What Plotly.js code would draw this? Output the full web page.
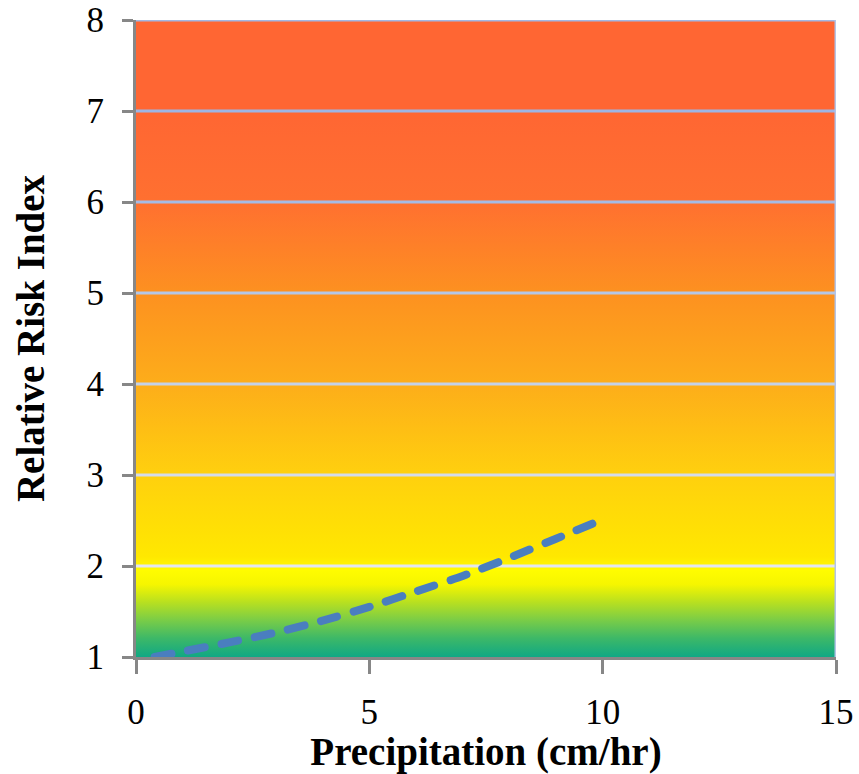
<!DOCTYPE html>
<html>
<head>
<meta charset="utf-8">
<script src="https://cdn.plot.ly/plotly-3.0.1.min.js"></script>
<style>
html, body { margin: 0; padding: 0; background: #ffffff; }
#chart { width: 859px; height: 774px; }
.scatterlayer path.js-line { stroke-linecap: round; }
</style>
</head>
<body>
<div id="chart"></div>
<script>
// Data
const precipitation = [0.4, 1, 2, 3, 4, 5, 6, 7, 8, 9, 9.85];
const riskIndex = [1.0, 1.06, 1.16, 1.27, 1.40, 1.55, 1.72, 1.89, 2.09, 2.30, 2.48];
const xTickVals = [0, 5, 10, 15];
const yTickVals = [1, 2, 3, 4, 5, 6, 7, 8];
const gridLevels = [2, 3, 4, 5, 6, 7];
const gridColors = ['#e3e6ef', '#d4dbea', '#c4d1e8', '#b5c7e6', '#a5bbe5', '#9db5e5'];

// Background gradient (risk zones), rendered as a stretched image over the axes' data range
const stops = [
  [0.000, '#ff6633'], [0.143, '#ff6633'], [0.286, '#ff7030'], [0.429, '#fd9120'],
  [0.571, '#fdad1a'], [0.714, '#ffd00e'], [0.843, '#ffe800'], [0.864, '#fffc00'],
  [0.886, '#f6f600'], [0.914, '#b8e020'], [0.943, '#78cc48'], [0.971, '#3cb868'],
  [1.000, '#10a884']
];
const svg = '<svg xmlns="http://www.w3.org/2000/svg" width="10" height="700" preserveAspectRatio="none">' +
  '<defs><linearGradient id="g" x1="0" y1="0" x2="0" y2="1">' +
  stops.map(s => '<stop offset="' + s[0] + '" stop-color="' + s[1] + '"/>').join('') +
  '</linearGradient></defs><rect width="10" height="700" fill="url(#g)"/></svg>';
const bgSrc = 'data:image/svg+xml;charset=utf-8,' + encodeURIComponent(svg);

const serif = 'Liberation Serif, Times New Roman, serif';

const trace = {
  x: precipitation,
  y: riskIndex,
  type: 'scatter',
  mode: 'lines',
  line: { color: '#4a7ebf', width: 8, dash: '17px,17px', shape: 'spline', smoothing: 0.6 },
  hoverinfo: 'skip',
  showlegend: false
};

const shapes = gridLevels.map((v, i) => ({
  type: 'line', xref: 'x', yref: 'y', x0: 0, x1: 15, y0: v, y1: v,
  line: { color: gridColors[i], width: 3 }, layer: 'between'
}));
shapes.push({ type: 'line', xref: 'x', yref: 'y', x0: 0, x1: 15, y0: 8, y1: 8,
  line: { color: '#a3b8e3', width: 3 }, layer: 'above' });
shapes.push({ type: 'line', xref: 'x', yref: 'y', x0: 15, x1: 15, y0: 1, y1: 8,
  line: { color: '#b3c4e8', width: 3 }, layer: 'above' });

const layout = {
  width: 859,
  height: 774,
  margin: { l: 136, r: 23, t: 20, b: 117 },
  paper_bgcolor: '#ffffff',
  plot_bgcolor: 'rgba(0,0,0,0)',
  showlegend: false,
  images: [{
    source: bgSrc, xref: 'x', yref: 'y', x: 0, y: 8, sizex: 15, sizey: 7,
    sizing: 'stretch', xanchor: 'left', yanchor: 'top', layer: 'below'
  }],
  shapes: shapes,
  xaxis: {
    range: [0, 15],
    tickvals: xTickVals,
    ticktext: xTickVals.map(String),
    showgrid: false,
    zeroline: false,
    showline: true,
    linecolor: '#878787',
    linewidth: 3,
    ticks: 'outside',
    ticklen: 14,
    tickwidth: 3,
    tickcolor: '#878787',
    ticklabelstandoff: 8,
    ticklabeloverflow: 'allow',
    tickfont: { family: serif, size: 35, color: '#000000' },
    title: { text: 'Precipitation (cm/hr)', font: { family: serif, size: 39, color: '#000000', weight: 'bold' }, standoff: 4 },
    automargin: false,
    fixedrange: true
  },
  yaxis: {
    range: [1, 8],
    tickvals: yTickVals,
    ticktext: yTickVals.map(String),
    showgrid: false,
    zeroline: false,
    showline: true,
    linecolor: '#878787',
    linewidth: 3,
    ticks: 'outside',
    ticklen: 11,
    tickwidth: 3,
    tickcolor: '#878787',
    ticklabelstandoff: 11,
    ticklabeloverflow: 'allow',
    tickfont: { family: serif, size: 35, color: '#000000' },
    title: { text: 'Relative Risk Index', font: { family: serif, size: 39, color: '#000000', weight: 'bold' }, standoff: 30 },
    automargin: false,
    fixedrange: true
  }
};

Plotly.newPlot('chart', [trace], layout, { displayModeBar: false, staticPlot: true });
</script>
</body>
</html>
